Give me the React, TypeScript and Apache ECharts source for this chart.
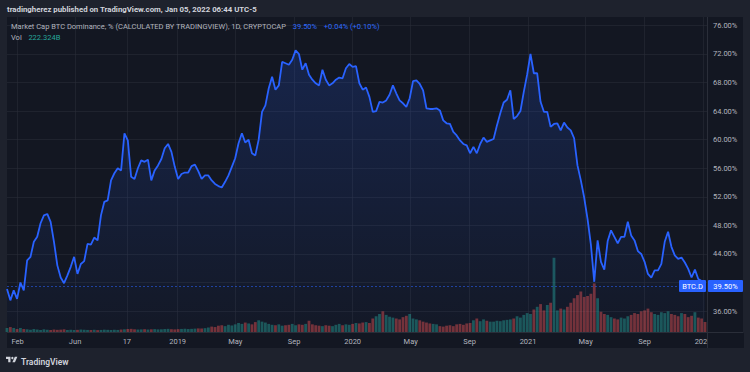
import React, { useEffect, useRef } from "react";
import * as echarts from "echarts";

// ---- data (weekly samples) ----
const START_DATE = "2018-01-10";
const STEP_DAYS = 7;

const dominance = [
  39.1, 37.5, 38.9, 37.7, 40.0, 38.9, 43.1, 43.6, 45.7, 46.4, 48.3, 49.4, 49.6, 48.5, 45.7, 42.4, 40.7, 39.9, 41.0, 42.2,
  43.6, 41.2, 42.6, 43.0, 45.4, 45.3, 46.3, 45.9, 49.4, 51.3, 51.5, 54.3, 55.3, 56.0, 55.7,
  60.9, 59.9, 54.8, 54.5, 56.0, 57.1, 56.9, 57.2, 54.3, 55.7, 56.4, 57.3, 58.8, 59.4, 58.3, 56.2, 54.5, 55.2, 55.4, 55.4,
  56.3, 56.5, 55.6, 54.5, 55.0, 55.0, 54.3, 53.8, 53.5, 53.3, 54.1, 55.0, 56.2, 57.4, 59.5,
  60.9, 59.6, 60.0, 58.1, 57.8, 60.0, 63.9, 64.8, 67.2, 68.8, 67.0, 67.6, 70.9, 70.7, 70.5, 71.2, 72.5, 72.0, 69.8, 70.7,
  69.1, 68.4, 67.9, 67.6, 69.8, 68.4, 67.6, 67.9, 68.4, 68.7, 68.6, 70.0, 70.6, 70.2,
  70.3, 67.9, 67.0, 67.3, 66.0, 63.9, 64.0, 65.3, 65.2, 65.5, 66.3, 67.6, 66.5, 65.5, 65.1, 64.6, 65.8, 68.2, 68.3, 67.8,
  66.9, 64.4, 64.3, 64.3, 64.4, 64.1, 62.7, 62.3, 62.2, 61.1, 60.6, 59.9, 59.4, 59.2, 58.1,
  59.0, 58.1, 59.4, 60.3, 59.7, 59.9, 60.1, 62.0, 63.7, 65.2, 65.6, 66.9, 62.9, 63.3, 64.0, 66.7, 69.1, 72.0, 69.3, 69.3,
  65.3, 63.9, 63.9, 61.8, 62.2, 62.3, 61.3, 62.4, 61.7, 61.3, 60.2, 56.4, 54.3, 51.9,
  48.9, 45.3, 40.1, 45.9, 42.9, 41.8, 45.8, 47.3, 46.4, 45.5, 46.4, 46.4, 48.5, 46.6, 45.9, 44.4, 44.0, 42.9, 41.2, 40.7,
  41.7, 41.7, 42.6, 45.7, 47.1, 45.0, 43.8, 43.3, 43.5, 42.8, 41.9, 40.7, 41.8, 40.5, 40.2, 39.5,
];

// volume in billions
const volumeB = [
  90, 110, 90, 66, 90, 66,
  60, 50, 66, 55, 45, 60, 50, 44, 55, 48, 52, 60, 45, 50, 44, 48, 55, 50, 46, 44, 50, 42, 46, 52, 48, 44, 50, 46, 55, 60,
  66, 70, 60, 55, 58, 62, 55, 60, 64, 58, 60, 66, 70, 62, 58, 64, 68, 72, 66, 70, 75, 80, 78, 85,
  100, 120, 110, 140, 150, 130, 160, 145, 170,
  200, 180, 210, 190, 170, 220, 260, 230, 210, 180, 160, 150, 170, 140, 150, 160, 180, 150, 170, 160, 180, 250, 170, 150,
  140, 130, 150, 140, 130, 160, 180, 150, 170, 160, 180,
  200, 190, 210, 220, 200,
  300, 350, 400, 460, 380, 340,
  320, 300, 280, 330, 360, 400, 300, 280, 260,
  230, 210, 190, 180, 170,
  130, 120, 140, 150, 130,
  170, 180, 160, 190, 200,
  260, 300, 240, 280, 250, 230,
  230, 250, 240, 260, 270, 280,
  300, 350, 320, 380, 420, 400,
  500, 560, 620, 480, 600, 650,
  1650, 480, 520, 500, 560,
  650, 750, 820, 900, 780,
  800, 850, 1080, 750,
  450, 400, 380, 330, 300, 280, 320, 300, 350,
  380, 420, 400, 460, 480, 520, 440,
  400, 380, 440, 420, 460, 400,
  380, 350, 420, 400, 330, 360, 440, 320, 300, 222,
];

const xTickDates = [
  "2018-02-01", "2018-06-01", "2018-09-17", "2019-01-01", "2019-05-01", "2019-09-01",
  "2020-01-01", "2020-05-01", "2020-09-01", "2021-01-01", "2021-05-01", "2021-09-01", "2022-01-01",
];
const xTickLabels = ["Feb", "Jun", "17", "2019", "May", "Sep", "2020", "May", "Sep", "2021", "May", "Sep", "2022"];
const yGridTicks = [36, 40, 44, 48, 52, 56, 60, 64, 68, 72, 76];
const yLabelTicks = [36, 44, 48, 52, 56, 60, 64, 68, 72, 76];

const LAST_VALUE = 39.5;
const HEADER = "tradingherez published on TradingView.com, Jan 05, 2022 06:44 UTC-5";
const TITLE = "Market Cap BTC Dominance, % (CALCULATED BY TRADINGVIEW), 1D, CRYPTOCAP";
const LAST_TEXT = "39.50%";
const CHANGE_TEXT = "+0.04% (+0.10%)";
const VOL_TEXT = "222.324B";

const DAY = 86400000;
const FONT = "Roboto, 'Liberation Sans', Arial, sans-serif";

echarts.graphic.registerShape(
  "tvlogo",
  echarts.graphic.extendPath("M14 22H7V11H0V4h14v18zM28 22h-8l7.5-18h8L28 22z", {}) as any
);

export default function App() {
  const ref = useRef<HTMLDivElement>(null);

  useEffect(() => {
    if (!ref.current) return;
    const chart = echarts.init(ref.current, null, { renderer: "svg" });

    const t0 = Date.parse(START_DATE + "T00:00:00Z");
    const times = dominance.map((_, i) => t0 + i * STEP_DAYS * DAY);
    const tEnd = times[times.length - 1];
    const tickTs = xTickDates.map((d) => Date.parse(d + "T00:00:00Z"));
    const labelMap: Record<string, string> = {};
    tickTs.forEach((t, i) => (labelMap[String(t)] = xTickLabels[i]));

    const lineData = dominance.map((v, i) => [times[i], v]);
    const volData = volumeB.map((v, i) => {
      const up = i === 0 ? true : dominance[i] >= dominance[i - 1];
      return {
        value: [times[i], v],
        itemStyle: { color: up ? "rgba(38,166,154,0.45)" : "rgba(239,83,80,0.45)" },
      };
    });

    const gridLine = { show: true, lineStyle: { color: "rgba(42,46,57,0.55)", width: 1 } };

    chart.setOption({
      animation: false,
      backgroundColor: "transparent",
      grid: { left: 7, top: 17, width: 700, height: 315, containLabel: false },
      xAxis: {
        type: "value",
        min: t0,
        max: t0 + 1460.2 * DAY,
        axisLine: { show: false },
        axisTick: { show: false, customValues: tickTs },
        splitLine: gridLine,
        axisLabel: {
          customValues: tickTs,
          color: "#b2b5be",
          fontSize: 7.5,
          fontFamily: FONT,
          margin: 5,
          formatter: (v: number) => labelMap[String(v)] ?? "",
        },
      },
      yAxis: [
        {
          type: "value",
          position: "right",
          min: 33.07,
          max: 77.18,
          axisLine: { show: false },
          axisTick: { show: false, customValues: yGridTicks },
          splitLine: gridLine,
          axisLabel: {
            customValues: yLabelTicks,
            color: "#b2b5be",
            fontSize: 7.5,
            fontFamily: FONT,
            margin: 6,
            formatter: (v: number) => v.toFixed(2) + "%",
          },
        },
        {
          type: "value",
          min: 0,
          max: 7000,
          show: false,
          splitLine: { show: false },
        },
      ],
      series: [
        {
          type: "bar",
          yAxisIndex: 1,
          data: volData,
          barWidth: 2.8,
          z: 1,
        },
        {
          type: "line",
          yAxisIndex: 0,
          data: lineData,
          showSymbol: false,
          symbol: "none",
          z: 3,
          lineStyle: { color: "#2962ff", width: 1.8 },
          areaStyle: {
            color: new echarts.graphic.LinearGradient(0, 0, 0, 1, [
              { offset: 0, color: "rgba(41,98,255,0.26)" },
              { offset: 1, color: "rgba(41,98,255,0.03)" },
            ]),
          },
          markLine: {
            silent: true,
            symbol: "none",
            label: { show: false },
            lineStyle: { color: "rgba(41,98,255,0.55)", type: [2, 2], width: 1 },
            data: [{ yAxis: LAST_VALUE }],
          },
        },
      ],
    });

    const pt = chart.convertToPixel({ gridIndex: 0 }, [tEnd, LAST_VALUE]) as number[];
    const py = pt[1];
    const axisX = 707;

    chart.setOption({
      graphic: [
        { type: "line", z: 50, silent: true, shape: { x1: 7, y1: 332.5, x2: 743, y2: 332.5 }, style: { stroke: "#2a2e39", lineWidth: 1 } },
        { type: "line", z: 50, silent: true, shape: { x1: axisX + 0.5, y1: 17, x2: axisX + 0.5, y2: 348 }, style: { stroke: "#2a2e39", lineWidth: 1 } },
        { type: "rect", z: 40, silent: true, shape: { x: axisX + 1, y: 333, width: 36, height: 15 }, style: { fill: "#131722" } },
        {
          type: "text", x: 7, y: 9, z: 60,
          style: { text: HEADER, fill: "#d1d4dc", font: `bold 7.8px ${FONT}`, verticalAlign: "middle" },
        },
        {
          type: "text", x: 11, y: 26, z: 60,
          style: {
            text: `{a|${TITLE}}  {b|${LAST_TEXT}}  {b|${CHANGE_TEXT}}`,
            verticalAlign: "middle",
            rich: {
              a: { fill: "#b2b5be", fontSize: 7.5, fontFamily: FONT },
              b: { fill: "#2f6bff", fontSize: 7.5, fontFamily: FONT },
            },
          },
        },
        {
          type: "text", x: 11, y: 37, z: 60,
          style: {
            text: `{a|Vol}  {c|${VOL_TEXT}}`,
            verticalAlign: "middle",
            rich: {
              a: { fill: "#b2b5be", fontSize: 7.5, fontFamily: FONT },
              c: { fill: "#26a69a", fontSize: 7.5, fontFamily: FONT },
            },
          },
        },
        { type: "rect", z: 70, silent: true, shape: { x: 679, y: py - 6, width: 27, height: 12, r: 1 }, style: { fill: "#2962ff" } },
        {
          type: "text", z: 71, x: 692.5, y: py,
          style: { text: "BTC.D", fill: "#ffffff", font: `7.5px ${FONT}`, align: "center", verticalAlign: "middle" },
        },
        { type: "rect", z: 70, silent: true, shape: { x: axisX + 1, y: py - 6, width: 35, height: 12, r: 1 }, style: { fill: "#2962ff" } },
        {
          type: "text", z: 71, x: axisX + 18.5, y: py,
          style: { text: LAST_TEXT, fill: "#ffffff", font: `7.5px ${FONT}`, align: "center", verticalAlign: "middle" },
        },
        { type: "tvlogo", z: 60, x: 6, y: 355.6, scaleX: 0.32, scaleY: 0.3, style: { fill: "#d1d4dc" } },
        { type: "circle", z: 60, shape: { cx: 6 + 20 * 0.32, cy: 355.6 + 8 * 0.3, r: 1.2 }, style: { fill: "#d1d4dc" } },
        {
          type: "text", x: 21, y: 362, z: 60,
          style: { text: "TradingView", fill: "#d1d4dc", font: `600 8.5px ${FONT}`, verticalAlign: "middle" },
        },
      ],
    });

    return () => chart.dispose();
  }, []);

  return (
    <div style={{ position: "fixed", left: 0, top: 0, width: 750, height: 372, background: "#1e222d" }}>
      <div style={{ position: "absolute", left: 7, top: 17, width: 736, height: 331, background: "#131722" }} />
      <div ref={ref} style={{ position: "absolute", left: 0, top: 0, width: 750, height: 372 }} />
    </div>
  );
}
